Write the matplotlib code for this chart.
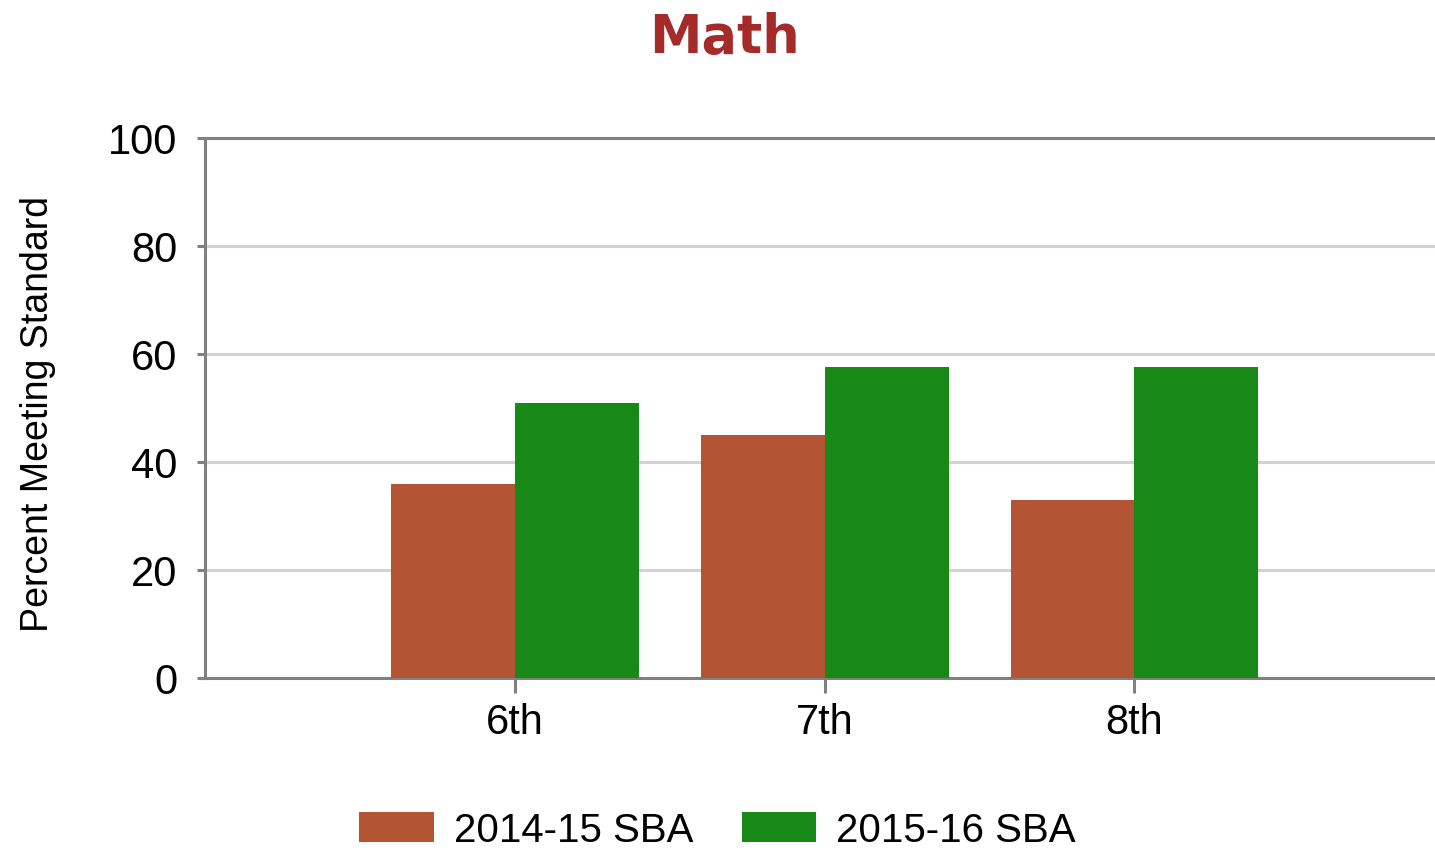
import numpy as np
import matplotlib.pyplot as plt

# data
grades = ['6th', '7th', '8th']
sba_2014_15 = [36, 45, 33]
sba_2015_16 = [51, 57.6, 57.6]
series_names = ['2014-15 SBA', '2015-16 SBA']
y_ticks = [0, 20, 40, 60, 80, 100]

red = '#B35432'
green = '#188916'
axis_gray = '#808080'
grid_gray = '#D3D3D3'

plt.rcParams['font.family'] = ['Liberation Sans', 'DejaVu Sans']

fig = plt.figure(figsize=(14.35, 8.53), dpi=100)
ax = fig.add_axes([205 / 1435, 1 - 679 / 853, 1 - 205 / 1435, (679 - 139) / 853])

x = np.arange(len(grades))
w = 0.4
ax.bar(x - w / 2, sba_2014_15, width=w, color=red, label=series_names[0], zorder=3)
ax.bar(x + w / 2, sba_2015_16, width=w, color=green, label=series_names[1], zorder=3)

ax.set_xlim(-1, 2.97)
ax.set_ylim(0, 100)
ax.set_yticks(y_ticks)
ax.set_xticks(x)
ax.set_xticklabels(grades)
ax.yaxis.grid(True, color=grid_gray, linewidth=2.2, zorder=0)
ax.set_axisbelow(True)

for side in ['left', 'bottom', 'top']:
    ax.spines[side].set_color(axis_gray)
    ax.spines[side].set_linewidth(2.2)
ax.spines['right'].set_visible(False)
ax.tick_params(axis='both', colors=axis_gray, width=2.2, length=6, labelsize=30,
               labelcolor='black')
ax.tick_params(axis='x', length=11, pad=6)
ax.tick_params(axis='y', pad=14)

ax.set_ylabel('Percent Meeting Standard', fontsize=27)
ax.yaxis.set_label_coords(-0.121, 0.49)

fig.text(0.505, 0.955, 'Math', fontsize=38, fontweight='bold', color='#A52A2A',
         ha='center', va='center', family=['DejaVu Sans'])

fig.legend(loc='center', bbox_to_anchor=(0.5, 1 - 831 / 853), ncol=2, frameon=False,
           fontsize=29, handlelength=1.85, handleheight=0.75, handletextpad=0.5,
           columnspacing=1.2)

fig.savefig('out.png', dpi=100)
